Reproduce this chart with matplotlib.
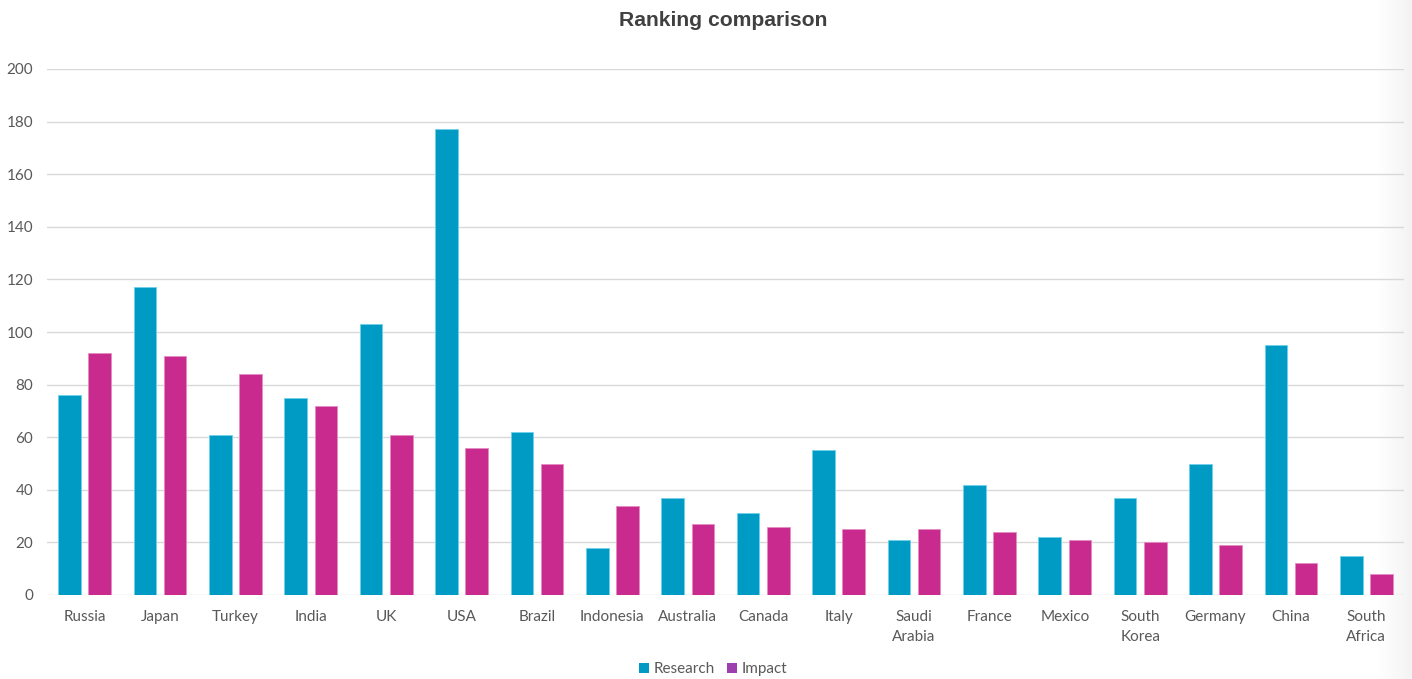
import matplotlib
matplotlib.use("Agg")
import matplotlib.pyplot as plt
import numpy as np
from matplotlib.patches import Patch

countries = ["Russia", "Japan", "Turkey", "India", "UK", "USA", "Brazil",
             "Indonesia", "Australia", "Canada", "Italy", "Saudi\nArabia",
             "France", "Mexico", "South\nKorea", "Germany", "China",
             "South\nAfrica"]
research = [76, 117, 61, 75, 103, 177, 62, 18, 37, 31, 55, 21, 42, 22, 37, 50, 95, 15]
impact = [92, 91, 84, 72, 61, 56, 50, 34, 27, 26, 25, 25, 24, 21, 20, 19, 12, 8]
y_ticks = [0, 20, 40, 60, 80, 100, 120, 140, 160, 180, 200]

c_research = "#009BC4"
c_impact = "#C92A8D"
c_impact_legend = "#9E3FB0"
text_col = "#595959"

W, H = 1412, 679
fig = plt.figure(figsize=(W / 100, H / 100), dpi=100)
fig.patch.set_facecolor("white")

# soft shading along the right edge
grad = np.linspace(0, 1, 64)[None, :]
bg = fig.add_axes([1378 / W, 0, 34 / W, 1], zorder=-5)
bg.imshow(grad, aspect="auto", cmap=matplotlib.colors.LinearSegmentedColormap.from_list(
    "edge", ["#ffffff", "#f3f3f3"]), extent=[0, 1, 0, 1])
bg.axis("off")

ax = fig.add_axes([47 / W, 84 / H, 1357 / W, 526 / H])
ax.set_facecolor("none")

x = np.arange(len(countries))
bw = 0.30
ax.bar(x - 0.05 - bw / 2, research, width=bw, color=c_research,
       edgecolor="#6fd0ea", linewidth=0.6, zorder=3)
ax.bar(x + 0.05 + bw / 2, impact, width=bw, color=c_impact,
       edgecolor="#e48cc3", linewidth=0.6, zorder=3)

ax.set_xlim(-0.5, len(countries) - 0.5)
ax.set_ylim(0, 200)
ax.set_yticks(y_ticks)
ax.grid(axis="y", color="#d9d9d9", linewidth=1.0, zorder=0)
ax.set_axisbelow(True)
for s in ax.spines.values():
    s.set_visible(False)
ax.tick_params(axis="both", length=0, colors=text_col)
ax.set_yticklabels([str(v) for v in y_ticks], fontsize=11, family="Lato", color=text_col)
ax.tick_params(axis="y", pad=10)
ax.set_xticks(x)
ax.set_xticklabels(countries, fontsize=11, family="Lato", color=text_col,
                   linespacing=1.55, va="top")
ax.tick_params(axis="x", pad=11)

fig.text(723 / W, 1 - 20 / H, "Ranking comparison", ha="center", va="center",
         fontsize=15.2, fontweight="bold", family="Liberation Sans", color="#404040")

handles = [Patch(facecolor=c_research, label="Research"),
           Patch(facecolor=c_impact_legend, label="Impact")]
fig.legend(handles=handles, loc="center", bbox_to_anchor=(713 / W, 1 - 669 / H),
           ncol=2, frameon=False, prop={"family": "Lato", "size": 11},
           labelcolor=text_col, handlelength=0.65, handleheight=0.65,
           handletextpad=0.3, columnspacing=0.8)

fig.savefig("out.png", dpi=100, facecolor="white")
